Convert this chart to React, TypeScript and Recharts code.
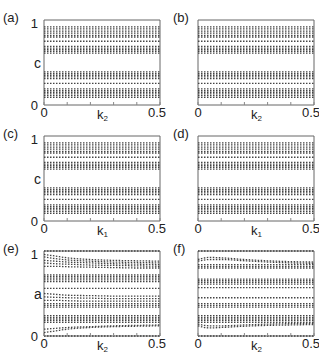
import { LineChart, Line, XAxis, YAxis, ReferenceArea } from "recharts";

// k range for the flat (constant) branches
const kEnds = [0, 0.5];
// sample points along k for the bending branches in (e) and (f)
const kSamples = [0, 0.05, 0.1, 0.2, 0.3, 0.4, 0.5];
const xTicks = [0, 0.1, 0.2, 0.3, 0.4, 0.5];
const yTicks = [0, 1];

// levels of c in panels (a)-(d)
const cLevels = [
  0.92, 0.895, 0.87, 0.845, 0.82, 0.8,
  0.75,
  0.69, 0.67, 0.65, 0.63, 0.61,
  0.39, 0.37, 0.35, 0.33, 0.31,
  0.255,
  0.19, 0.17, 0.15, 0.13, 0.11, 0.09,
];

// branches of a in panel (e), values at kSamples
const eCurves: number[][] = [
  [1, 1, 1, 1, 1, 1, 1],
  [0.96, 0.94, 0.92, 0.9, 0.89, 0.885, 0.88],
  [0.93, 0.91, 0.895, 0.88, 0.87, 0.865, 0.86],
  [0.89, 0.88, 0.87, 0.86, 0.85, 0.845, 0.84],
  [0.86, 0.85, 0.845, 0.835, 0.83, 0.825, 0.82],
  [0.82, 0.82, 0.815, 0.81, 0.805, 0.8, 0.8],
  [0.72, 0.72, 0.72, 0.72, 0.72, 0.72, 0.72],
  [0.7, 0.7, 0.7, 0.7, 0.7, 0.7, 0.7],
  [0.68, 0.68, 0.68, 0.68, 0.68, 0.68, 0.68],
  [0.66, 0.66, 0.66, 0.66, 0.66, 0.66, 0.66],
  [0.64, 0.64, 0.64, 0.64, 0.64, 0.64, 0.64],
  [0.56, 0.56, 0.56, 0.56, 0.56, 0.56, 0.56],
  [0.5, 0.49, 0.48, 0.475, 0.47, 0.47, 0.47],
  [0.46, 0.455, 0.45, 0.445, 0.44, 0.44, 0.44],
  [0.42, 0.42, 0.415, 0.41, 0.41, 0.41, 0.41],
  [0.38, 0.38, 0.38, 0.38, 0.38, 0.38, 0.38],
  [0.36, 0.36, 0.36, 0.36, 0.36, 0.36, 0.36],
  [0.34, 0.34, 0.34, 0.34, 0.34, 0.34, 0.34],
  [0.24, 0.24, 0.24, 0.24, 0.24, 0.24, 0.24],
  [0.22, 0.22, 0.22, 0.22, 0.22, 0.22, 0.22],
  [0.2, 0.2, 0.2, 0.2, 0.2, 0.2, 0.2],
  [0.18, 0.18, 0.18, 0.18, 0.18, 0.18, 0.18],
  [0.16, 0.16, 0.16, 0.16, 0.16, 0.16, 0.16],
  [0.08, 0.09, 0.1, 0.11, 0.12, 0.125, 0.13],
  [0.04, 0.06, 0.08, 0.1, 0.11, 0.115, 0.12],
  [0, 0, 0, 0, 0, 0, 0],
];

// branches of a in panel (f), values at kSamples
const fCurves: number[][] = [
  [1, 1, 1, 1, 1, 1, 1],
  [0.9, 0.925, 0.92, 0.9, 0.885, 0.875, 0.87],
  [0.88, 0.9, 0.9, 0.885, 0.87, 0.86, 0.855],
  [0.84, 0.84, 0.84, 0.84, 0.84, 0.84, 0.84],
  [0.82, 0.82, 0.82, 0.82, 0.82, 0.82, 0.82],
  [0.8, 0.8, 0.8, 0.8, 0.8, 0.8, 0.8],
  [0.67, 0.67, 0.67, 0.67, 0.67, 0.67, 0.67],
  [0.65, 0.65, 0.65, 0.65, 0.65, 0.65, 0.65],
  [0.63, 0.63, 0.63, 0.63, 0.63, 0.63, 0.63],
  [0.61, 0.61, 0.61, 0.61, 0.61, 0.61, 0.61],
  [0.57, 0.57, 0.57, 0.57, 0.57, 0.57, 0.57],
  [0.45, 0.45, 0.45, 0.45, 0.45, 0.45, 0.45],
  [0.38, 0.38, 0.38, 0.38, 0.38, 0.38, 0.38],
  [0.36, 0.36, 0.36, 0.36, 0.36, 0.36, 0.36],
  [0.34, 0.34, 0.34, 0.34, 0.34, 0.34, 0.34],
  [0.24, 0.24, 0.24, 0.24, 0.24, 0.24, 0.24],
  [0.22, 0.22, 0.22, 0.22, 0.22, 0.22, 0.22],
  [0.2, 0.2, 0.2, 0.2, 0.2, 0.2, 0.2],
  [0.18, 0.18, 0.18, 0.18, 0.18, 0.18, 0.18],
  [0.16, 0.16, 0.16, 0.16, 0.16, 0.16, 0.16],
  [0.14, 0.12, 0.12, 0.13, 0.14, 0.145, 0.15],
  [0.12, 0.095, 0.1, 0.115, 0.125, 0.13, 0.135],
  [0, 0, 0, 0, 0, 0, 0],
];

type Pt = { k: number; v: number };

const flat = (levels: number[]): Pt[][] =>
  levels.map((v) => kEnds.map((k) => ({ k, v })));
const curved = (curves: number[][]): Pt[][] =>
  curves.map((vals) => vals.map((v, i) => ({ k: kSamples[i], v })));

const font = "'Liberation Sans', Arial, sans-serif";
const ink = "#222";
const lineColor = "#444";

// only 0 and 0.5 get a label; 0.5 nudged left so it stays inside the page
const XTick = (props: any) => {
  const { x, y, payload } = props;
  const v = payload.value;
  if (v !== 0 && v !== 0.5) return null;
  return (
    <text
      x={v === 0.5 ? x - 3 : x}
      y={y}
      dy="0.71em"
      textAnchor="middle"
      fontSize={13}
      fontFamily={font}
      fill={ink}
    >
      {v === 0 ? "0" : "0.5"}
    </text>
  );
};

type PanelProps = {
  tag: string;
  top: number;
  leftCol: boolean;
  xSub: string;
  yName?: string;
  series: Pt[][];
};

const Panel = ({ tag, top, leftCol, xSub, yName, series }: PanelProps) => {
  const plotLeft = leftCol ? 44 : 198;
  const chartLeft = leftCol ? 0 : 160;
  return (
    <>
      <div style={{ position: "absolute", left: chartLeft, top: top - 5 }}>
        <LineChart
          width={leftCol ? 168 : 159}
          height={108}
          margin={{ top: 5, right: leftCol ? 8 : 5, bottom: 0, left: leftCol ? 0 : 38 }}
        >
          <XAxis
            dataKey="k"
            type="number"
            domain={[0, 0.5]}
            ticks={xTicks}
            axisLine={false}
            tickSize={-3}
            tickMargin={6}
            tickLine={{ stroke: "#888" }}
            tick={<XTick />}
            height={18}
            interval={0}
          />
          <YAxis
            type="number"
            domain={[0, 1]}
            ticks={yTicks}
            hide={!leftCol}
            width={44}
            axisLine={false}
            tickLine={false}
            tickSize={0}
            tickMargin={6}
            tick={{ fontSize: 13, fill: ink, fontFamily: font }}
          />
          <ReferenceArea x1={0} x2={0.5} y1={0} y2={1} fill="none" stroke="#666" strokeWidth={1} />
          {series.map((pts, i) => (
            <Line
              key={i}
              data={pts}
              dataKey="v"
              type="monotone"
              stroke={lineColor}
              strokeWidth={1.3}
              strokeDasharray="1.5 1.5"
              dot={false}
              isAnimationActive={false}
            />
          ))}
        </LineChart>
      </div>
      <span
        style={{
          position: "absolute",
          left: leftCol ? 3 : 173,
          top: top - 10,
          fontSize: 13,
          fontFamily: font,
          color: ink,
        }}
      >
        ({tag})
      </span>
      {yName && (
        <span
          style={{
            position: "absolute",
            left: 34,
            top: top + 35,
            fontSize: 14,
            fontFamily: font,
            color: ink,
          }}
        >
          {yName}
        </span>
      )}
      <span
        style={{
          position: "absolute",
          left: plotLeft + 53,
          top: top + 88,
          fontSize: 13,
          fontFamily: font,
          color: ink,
          lineHeight: "14px",
        }}
      >
        k<sub style={{ fontSize: 8, verticalAlign: "-2px" }}>{xSub}</sub>
      </span>
    </>
  );
};

export default function App() {
  const flatSeries = flat(cLevels);
  return (
    <div
      style={{
        position: "absolute",
        left: 0,
        top: 0,
        width: 319,
        height: 353,
        background: "#fff",
        overflow: "hidden",
      }}
    >
      <Panel tag="a" top={20} leftCol xSub="2" yName="c" series={flatSeries} />
      <Panel tag="b" top={20} leftCol={false} xSub="2" series={flatSeries} />
      <Panel tag="c" top={136} leftCol xSub="1" yName="c" series={flatSeries} />
      <Panel tag="d" top={136} leftCol={false} xSub="1" series={flatSeries} />
      <Panel tag="e" top={251} leftCol xSub="2" yName="a" series={curved(eCurves)} />
      <Panel tag="f" top={251} leftCol={false} xSub="2" series={curved(fCurves)} />
    </div>
  );
}
